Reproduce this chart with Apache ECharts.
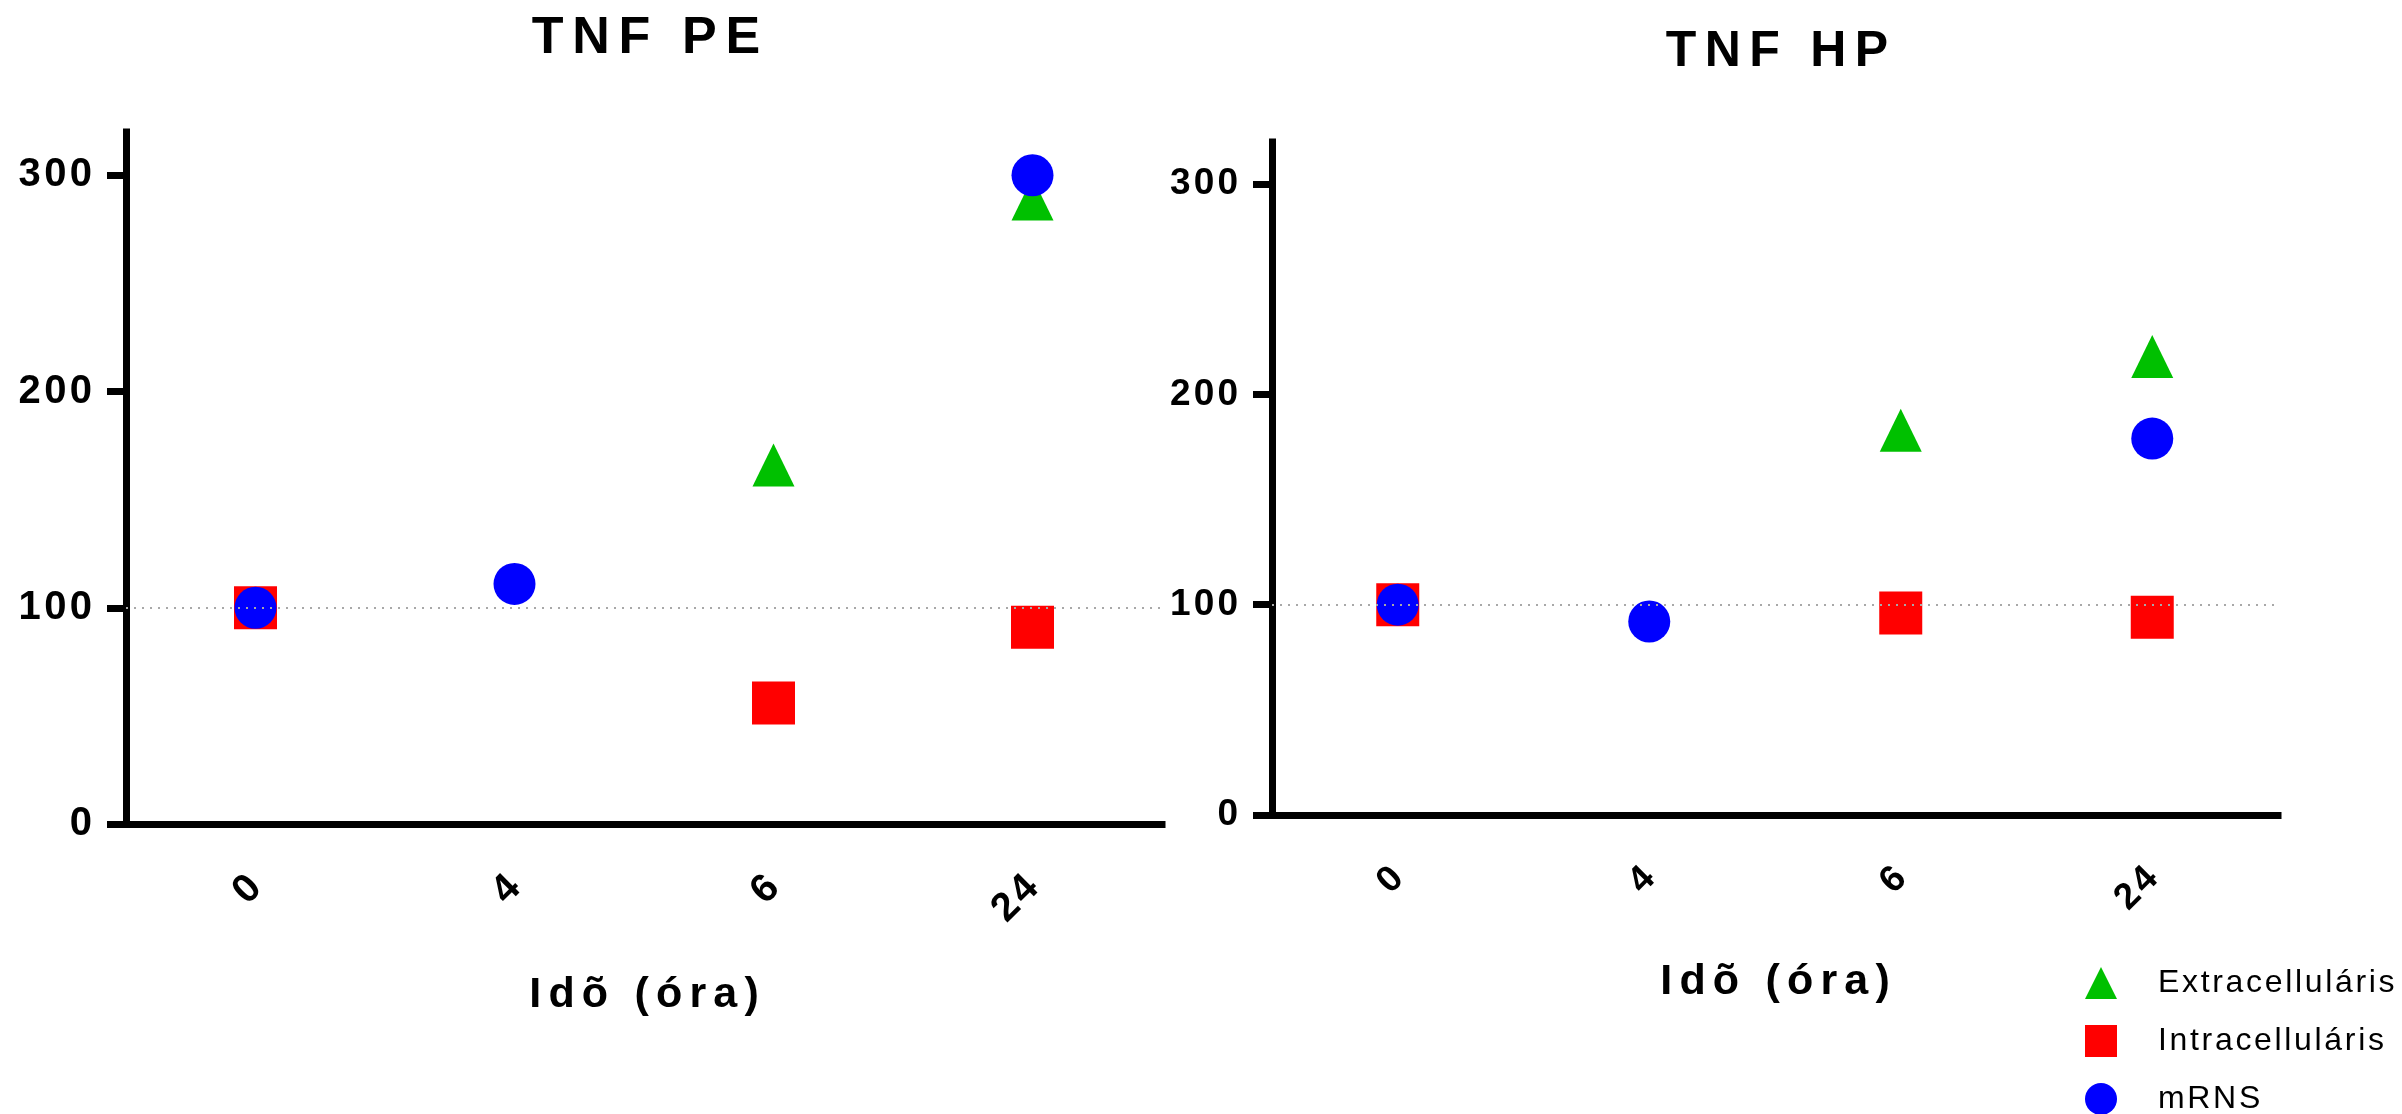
<!DOCTYPE html>
<html>
<head>
<meta charset="utf-8">
<script src="https://cdn.jsdelivr.net/npm/echarts@6/dist/echarts.min.js"></script>
<style>
  html, body { margin: 0; padding: 0; background: #fff; }
  #chart { width: 2402px; height: 1114px; }
</style>
</head>
<body>
<div id="chart"></div>
<script>
// Time points (hours) and value-axis ticks
const categories = ['0', '4', '6', '24'];
const yTicks = [0, 100, 200, 300];
const seriesNames = ['Extracelluláris', 'Intracelluláris', 'mRNS'];

// TNF PE (% of baseline)
const peExtra = [null, null, 166, 289];
const peIntra = [100, null, 56, 91];
const peMrns  = [100, 111, null, 300];

// TNF HP (% of baseline)
const hpExtra = [null, null, 183, 218];
const hpIntra = [100, null, 96, 94];
const hpMrns  = [100, 92, null, 179];

const FONT = 'Liberation Sans, Arial, sans-serif';
const HAIR = '\u200A';
// widen tracking by putting hair spaces between the glyphs
function spaced(s, n) { return Array.from(s).join(HAIR.repeat(n || 1)); }

const colors = { extra: '#00c000', intra: '#ff0000', mrns: '#0000ff' };

function axesFor(idx, labelSize, nameGap) {
  const x = {
    type: 'category', gridIndex: idx, data: categories,
    boundaryGap: true,
    axisLine: { lineStyle: { color: '#000', width: 7, cap: 'square' } },
    axisTick: { alignWithLabel: true, length: 19, lineStyle: { color: '#000', width: 6 } },
    axisLabel: {
      rotate: 45, margin: 58, color: '#000', fontFamily: FONT, fontWeight: 'bold',
      fontSize: labelSize, formatter: v => spaced(v, 1)
    },
    name: spaced('Idõ (óra)', 2), nameLocation: 'middle', nameGap: nameGap,
    nameTextStyle: { color: '#000', fontFamily: FONT, fontWeight: 'bold', fontSize: 43 }
  };
  const y = {
    type: 'value', gridIndex: idx, min: 0, max: 320,
    splitLine: { show: false },
    axisLine: { show: true, lineStyle: { color: '#000', width: 7, cap: 'square' } },
    axisTick: { show: true, length: 19, customValues: yTicks, lineStyle: { color: '#000', width: 7 } },
    axisLabel: {
      customValues: yTicks, margin: 34, color: '#000', fontFamily: FONT, fontWeight: 'bold',
      fontSize: labelSize, formatter: v => spaced(String(v), 1)
    }
  };
  return { x, y };
}

function seriesFor(idx, extra, intra, mrns) {
  const base = { type: 'scatter', xAxisIndex: idx, yAxisIndex: idx, silent: true };
  return [
    Object.assign({}, base, {
      name: seriesNames[0], data: extra, symbol: 'triangle', symbolSize: [42, 43],
      itemStyle: { color: colors.extra, opacity: 1 }, z: 2,
      markLine: {
        silent: true, symbol: 'none', label: { show: false },
        lineStyle: { type: [2, 6], color: '#a8a8a8', width: 2, opacity: 1 },
        data: [{ yAxis: 100 }]
      }
    }),
    Object.assign({}, base, {
      name: seriesNames[1], data: intra, symbol: 'rect', symbolSize: 43,
      itemStyle: { color: colors.intra, opacity: 1 }, z: 3
    }),
    Object.assign({}, base, {
      name: seriesNames[2], data: mrns, symbol: 'circle', symbolSize: 42,
      itemStyle: { color: colors.mrns, opacity: 1 }, z: 4
    })
  ];
}

const left = axesFor(0, 40, 150);
const right = axesFor(1, 37, 146);

const option = {
  backgroundColor: '#fff',
  animation: false,
  title: [
    { text: spaced('TNF PE', 2), left: 641, top: 8, textAlign: 'center',
      textStyle: { fontFamily: FONT, fontWeight: 'bold', fontSize: 52, color: '#000' } },
    { text: spaced('TNF HP', 2), left: 1772, top: 22, textAlign: 'center',
      textStyle: { fontFamily: FONT, fontWeight: 'bold', fontSize: 50, color: '#000' } }
  ],
  grid: [
    { left: 126, top: 132, width: 1036, height: 692 },
    { left: 1272, top: 142, width: 1006, height: 673 }
  ],
  xAxis: [left.x, right.x],
  yAxis: [left.y, right.y],
  legend: {
    orient: 'vertical', left: 2080, top: 962, height: 152,
    itemWidth: 32, itemHeight: 32, itemGap: 26,
    data: [
      { name: seriesNames[0], icon: 'triangle' },
      { name: seriesNames[1], icon: 'rect' },
      { name: seriesNames[2], icon: 'circle' }
    ],
    itemStyle: { opacity: 1 },
    formatter: name => spaced(name, 1),
    textStyle: { fontFamily: FONT, fontSize: 32, lineHeight: 32, color: '#000', padding: [0, 0, 0, 36] },
    selectedMode: false
  },
  series: [].concat(
    seriesFor(0, peExtra, peIntra, peMrns),
    seriesFor(1, hpExtra, hpIntra, hpMrns)
  )
};

const chart = echarts.init(document.getElementById('chart'), null, { renderer: 'canvas' });
chart.setOption(option);
</script>
</body>
</html>
